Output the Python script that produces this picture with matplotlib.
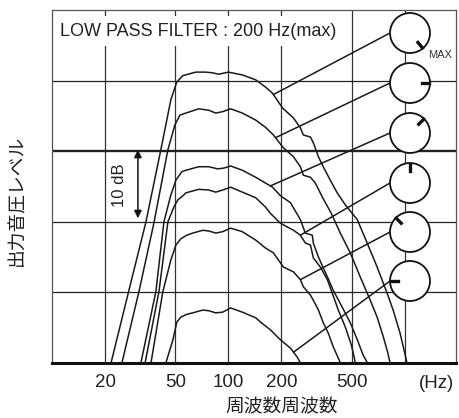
import numpy as np
import matplotlib
matplotlib.use("Agg")
import matplotlib.pyplot as plt
from matplotlib.patches import Circle
from matplotlib.lines import Line2D

plt.rcParams['font.family'] = ['Liberation Sans', 'Noto Sans CJK JP', 'DejaVu Sans']

# Output level curves (Hz, dB above the bottom of the chart), one per knob setting
freq_1 = [21.6, 27.3, 34.1, 41.4, 47.2, 51.0, 55.2, 65.3, 74.4, 81.5, 88, 100, 120, 143, 162, 178,
          203, 234, 256, 266, 292, 303, 324, 345, 378, 414, 460, 538, 612, 697, 794, 859, 941, 1000, 1030]
level_1 = [0, 10.3, 20.0, 30.2, 37.3, 39.8, 40.7, 41.2, 41.2, 41.1, 40.9, 41.2, 40.8, 40.1, 39.1, 38.2,
           36.1, 34.7, 33.3, 32.3, 32.0, 31.2, 29.2, 27.8, 25.9, 24.1, 22.4, 20.3, 17.0, 13.6, 9.9, 7.5, 4.2, 1.4, 0]

freq_2 = [24.9, 31.1, 37.8, 45.4, 49.7, 53.1, 57.4, 67.9, 77.4, 84.8, 92.8, 103, 120, 143, 162, 180,
          203, 234, 256, 266, 292, 311, 341, 383, 431, 491, 559, 637, 697, 754, 800, 826]
level_2 = [0, 10.1, 19.8, 30.2, 33.7, 35.1, 35.4, 36.0, 35.8, 35.4, 35.6, 36.0, 35.4, 34.4, 33.4, 32.3,
           30.6, 29.2, 27.8, 26.6, 26.3, 25.5, 23.5, 21.2, 18.4, 15.6, 12.2, 8.9, 6.5, 3.8, 1.5, 0]

freq_3 = [31.9, 38.8, 43.1, 47.2, 50.4, 54.5, 57.4, 67.9, 77.4, 87, 94, 103, 120, 143, 162, 178,
          197, 225, 256, 273, 299, 303, 324, 364, 393, 442, 491, 538, 581, 615]
level_3 = [0, 10.1, 20.0, 23.8, 25.9, 27.1, 27.3, 27.8, 27.8, 27.5, 27.6, 27.9, 27.3, 26.3, 25.5, 24.9,
           23.7, 22.7, 20.3, 18.4, 18.1, 17.0, 15.0, 12.2, 10.3, 7.9, 5.7, 3.3, 1.1, 0]

freq_4 = [33.7, 40.4, 45.4, 49.1, 51.7, 55.9, 57.4, 67.9, 77.4, 84.8, 92.8, 103, 120, 143, 162, 173,
          197, 234, 256, 273, 292, 303, 332, 364, 388, 420, 460, 497, 515, 524]
level_4 = [0, 10.1, 20.0, 22.1, 23.1, 23.8, 24.1, 24.6, 24.5, 24.2, 24.5, 24.9, 24.2, 23.4, 22.1, 21.2,
           19.8, 18.8, 18.1, 17.0, 16.7, 14.9, 13.6, 11.8, 9.9, 7.5, 5.1, 2.6, 1.0, 0]

freq_5 = [36.4, 42.5, 47.2, 50.4, 53.8, 58.1, 62.8, 71.6, 77.4, 84.8, 92.8, 103, 120, 143, 162, 180,
          205, 234, 256, 266, 292, 303, 324, 345, 369, 393, 425, 431]
level_5 = [0, 10.1, 14.6, 16.7, 17.6, 18.1, 18.4, 18.8, 18.7, 18.4, 18.6, 19.1, 18.6, 17.4, 16.3, 15.6,
           13.6, 12.9, 11.8, 10.8, 9.6, 8.9, 7.5, 5.7, 4.2, 2.3, 0.4, 0]

freq_6 = [44.2, 48.5, 51.0, 53.8, 58.1, 62.8, 71.6, 77.4, 84.8, 92.8, 103, 120, 143, 152, 173, 197, 225, 246, 256]
level_6 = [0, 3.3, 5.8, 6.5, 6.9, 7.1, 7.5, 7.4, 7.1, 7.2, 7.8, 7.2, 6.4, 5.8, 4.7, 3.3, 2.1, 0.8, 0]

# knob pointer angle (deg) and the frequency where each leader meets its curve
knob_angles = [-50, 0, 45, 90, 135, 180]
leader_freqs = [180, 185, 173, 256, 256, 234]

tick_freqs = [20, 50, 100, 200, 500]
tick_labels = ['20', '50', '100', '200', '500']
grid_freqs = [20, 50, 100, 200, 500, 1000]
grid_levels = [10, 20, 30, 40]

curves = [(freq_1, level_1), (freq_2, level_2), (freq_3, level_3),
          (freq_4, level_4), (freq_5, level_5), (freq_6, level_6)]

fig = plt.figure(figsize=(4.59, 4.18), dpi=100)
ax = fig.add_axes([0.1133, 0.1316, 0.880, 0.8445])
ax.set_xscale('log')
ax.set_xlim(10, 1950)
ax.set_ylim(0, 50)

# grid
for f in grid_freqs:
    ax.axvline(f, color='#333333', lw=0.9, zorder=1)
for lv in grid_levels:
    ax.axhline(lv, color='#222222', lw=1.7 if lv == 30 else 0.9, zorder=1)

for f, lv in curves:
    ax.plot(f, lv, color='#1a1a1a', lw=1.1, zorder=3)

# frame
for s in ['top', 'left', 'right']:
    ax.spines[s].set_color('#555555')
    ax.spines[s].set_linewidth(0.9)
ax.spines['bottom'].set_color('#111111')
ax.spines['bottom'].set_linewidth(2.2)

ax.set_xticks(tick_freqs)
ax.set_xticklabels(tick_labels)
ax.xaxis.set_minor_locator(matplotlib.ticker.NullLocator())
ax.set_yticks([])
ax.tick_params(axis='x', length=0, pad=8, labelsize=13.5, labelcolor='#222222')
ax.text(0.953, -0.057, '(Hz)', transform=ax.transAxes, ha='center', va='center',
        fontsize=13.5, color='#222222')

ax.text(0.569, -0.127, '周波数周波数', transform=ax.transAxes, ha='center', va='center',
        fontsize=13.5, color='#222222')
ax.text(-0.084, 0.462, '出力音圧レベル', transform=ax.transAxes, ha='center', va='center',
        rotation=90, fontsize=13.5, color='#222222')

ax.text(0.02, 0.94, 'LOW PASS FILTER : 200 Hz(max)', transform=ax.transAxes, ha='left', va='center',
        fontsize=13, color='#222222', zorder=6,
        bbox=dict(boxstyle='square,pad=0.35', fc='white', ec='none'))

# 10 dB scale mark
ax.annotate('', xy=(30.7, 30.2), xytext=(30.7, 20.5),
            arrowprops=dict(arrowstyle='<|-|>', color='#111111', lw=1.1, mutation_scale=11,
                            shrinkA=0, shrinkB=0), zorder=4)
ax.text(24.0, 25.2, '10 dB', ha='center', va='center', rotation=90, fontsize=12, color='#222222')

# knobs with leader lines
tr = fig.dpi_scale_trans
knob_x = 4.10
knob_y = [3.85, 3.35, 2.85, 2.35, 1.86, 1.37]
r = 0.20
for (f, lv), ky, ang, lf in zip(curves, knob_y, knob_angles, leader_freqs):
    ly = np.interp(np.log10(lf), np.log10(f), lv)
    ax.annotate('', xy=(lf, ly), xycoords='data', xytext=(knob_x - r, ky), textcoords=tr,
                arrowprops=dict(arrowstyle='-', color='#1a1a1a', lw=1.1, shrinkA=0, shrinkB=0),
                zorder=4)
    fig.add_artist(Circle((knob_x, ky), r, transform=tr, fc='white', ec='#111111', lw=1.3, zorder=5))
    a = np.radians(ang)
    fig.add_artist(Line2D([knob_x + 0.62 * r * np.cos(a), knob_x + 0.97 * r * np.cos(a)],
                          [ky + 0.62 * r * np.sin(a), ky + 0.97 * r * np.sin(a)],
                          transform=tr, color='#111111', lw=2.4, zorder=6))

fig.text(4.40, 3.63, 'MAX', transform=tr, ha='center', va='center', fontsize=8, color='#333333', zorder=6)

fig.savefig('out.png', dpi=100)
